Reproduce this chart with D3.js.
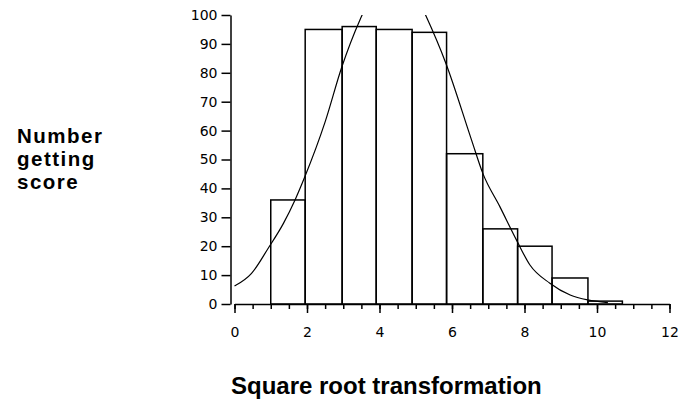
<!DOCTYPE html>
<html>
<head>
<meta charset="utf-8">
<script src="https://cdn.jsdelivr.net/npm/d3@7/dist/d3.min.js"></script>
<style>
  body { margin: 0; background: #fff; }
  svg { display: block; }
  .tick text { font-family: "DejaVu Sans", sans-serif; font-size: 14px; fill: #000; }
  .lbl { font-family: "Liberation Sans", Arial, sans-serif; font-weight: bold; fill: #000; }
</style>
</head>
<body>
<svg id="chart" width="681" height="403"></svg>
<script>
// histogram bins (left edge .. right edge) and counts
const binEdges = [1.0, 1.95, 2.97, 3.91, 4.9, 5.85, 6.85, 7.81, 8.76, 9.75, 10.7];
const counts = [36, 95, 96, 95, 94, 52, 26, 20, 9, 1];

// fitted curve (part above 100 is cut off)
const curveX = [0, 0.47, 0.93, 1.35, 1.67, 1.94, 2.5, 2.96, 3.46, 3.8, 4.4, 5.0, 5.28, 5.83, 6.54, 6.85, 7.32, 7.78, 8.15, 8.7, 9.26, 9.74, 10.3];
const curveY = [6.2, 10.6, 19.3, 27.9, 36, 44, 63, 82, 98.3, 107, 113, 107, 99.7, 83.3, 56.7, 45.2, 33.7, 22.1, 13.5, 7.2, 3.1, 1.4, 0.5];

const xTicks = [0, 2, 4, 6, 8, 10, 12];
const xMinor = d3.range(0, 12.01, 0.5);
const yTicks = [0, 10, 20, 30, 40, 50, 60, 70, 80, 90, 100];

const svg = d3.select('#chart');

const x = d3.scaleLinear().domain([0, 12]).range([234.5, 669.5]);
const y = d3.scaleLinear().domain([0, 100]).range([304, 15]);

const bars = counts.map((c, i) => ({x0: binEdges[i], x1: binEdges[i + 1], n: c}));

svg.append('g')
  .selectAll('rect.bar')
  .data(bars)
  .enter()
  .append('rect')
  .classed('bar', true)
  .attr('x', d => x(d.x0))
  .attr('y', d => y(d.n))
  .attr('width', d => x(d.x1) - x(d.x0))
  .attr('height', d => y(0) - y(d.n))
  .attr('fill', 'none')
  .attr('stroke', '#000')
  .attr('stroke-width', 1.5);

// clip the curve at the top of the plot
svg.append('clipPath').attr('id', 'clip')
  .append('rect')
  .attr('x', x(0) - 2).attr('y', y(100))
  .attr('width', x(12) - x(0) + 4).attr('height', y(0) - y(100));

const pts = curveX.map((v, i) => [v, curveY[i]]);
const lineGen = d3.line()
  .x(d => x(d[0]))
  .y(d => y(d[1]))
  .curve(d3.curveMonotoneX);

svg.append('path')
  .datum(pts)
  .attr('clip-path', 'url(#clip)')
  .attr('d', lineGen)
  .attr('fill', 'none')
  .attr('stroke', '#000')
  .attr('stroke-width', 1.2);

// y axis, set a little left of the x axis start
const yAxis = svg.append('g')
  .attr('transform', 'translate(230.5,0)')
  .call(d3.axisLeft(y).tickValues(yTicks).tickSize(9).tickSizeOuter(0).tickPadding(4));

// x axis: minor ticks then major ticks with labels
const xMinorAxis = svg.append('g')
  .attr('transform', 'translate(0,304)')
  .call(d3.axisBottom(x).tickValues(xMinor).tickSize(5).tickSizeOuter(0).tickFormat(''));

const xAxis = svg.append('g')
  .attr('transform', 'translate(0,304)')
  .call(d3.axisBottom(x).tickValues(xTicks).tickSize(9).tickSizeOuter(0).tickPadding(14));

svg.selectAll('.domain, .tick line')
  .attr('stroke', '#000')
  .attr('stroke-width', 1.5);
xMinorAxis.select('.domain').remove();
yAxis.selectAll('.tick text').attr('font-family', null).attr('font-size', null);
xAxis.selectAll('.tick text').attr('font-family', null).attr('font-size', null);

// axis titles, one text per line
['Number', 'getting', 'score'].forEach((s, i) => {
  svg.append('text')
    .attr('class', 'lbl')
    .attr('x', 17)
    .attr('y', 143 + i * 23)
    .attr('font-size', 20.5)
    .attr('letter-spacing', 1.5)
    .text(s);
});

svg.append('text')
  .attr('class', 'lbl')
  .attr('x', 231)
  .attr('y', 394)
  .attr('font-size', 24)
  .text('Square root transformation');
</script>
</body>
</html>
